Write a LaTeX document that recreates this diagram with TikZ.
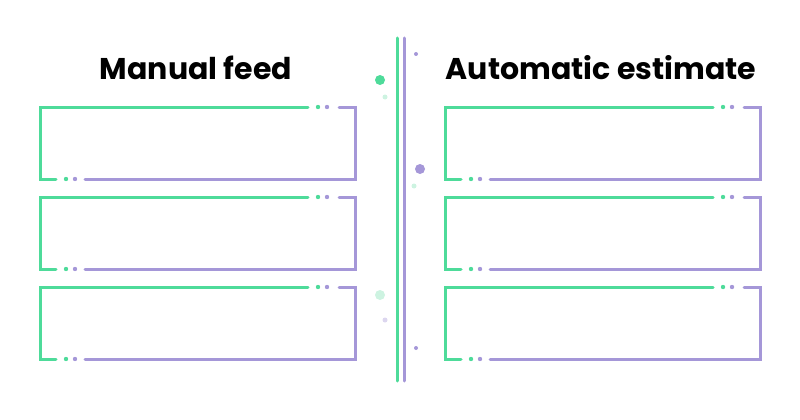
\documentclass[tikz,border=0pt]{standalone}
\usepackage{fontspec}
\setmainfont{Poppins}
\definecolor{mint}{HTML}{4EDB9A}
\definecolor{lilac}{HTML}{A597D8}
\definecolor{palemint}{HTML}{CDF3E1}
\definecolor{palelilac}{HTML}{DCD6EF}
\begin{document}
\begin{tikzpicture}[x=1pt,y=-1pt,
    greenline/.style={draw=mint,line width=3pt,line cap=round},
    purpleline/.style={draw=lilac,line width=3pt,line cap=round},
    title/.style={font=\bfseries\fontsize{30}{34}\selectfont}]
    \useasboundingbox (0,0) rectangle (800,420);

    \node[title] (lefttitle) at (196,68) {Manual feed};
    \node[title] (righttitle) at (601,68) {Automatic estimate};

    % boxes
    \foreach \x in {40,445} {
        \foreach \y in {107,197,287} {
            \draw[greenline] (\x+268,\y) -- (\x,\y) -- (\x,\y+72) -- (\x+16,\y+72);
            \fill[mint] (\x+26,\y+72) circle (2.2) (\x+278,\y) circle (2.2);
            \fill[lilac] (\x+35,\y+72) circle (2.2) (\x+287,\y) circle (2.2);
            \draw[purpleline] (\x+45,\y+72) -- (\x+315,\y+72) -- (\x+315,\y) -- (\x+299,\y);
        }
    }

    % divider
    \draw[greenline] (397,38) -- (397,381);
    \draw[purpleline] (404,38) -- (404,381);
    \fill[mint] (380,80) circle (5);
    \fill[palemint] (385,97) circle (2.5);
    \fill[lilac] (416,54) circle (2);
    \fill[lilac] (420,169) circle (5);
    \fill[palemint] (414,186) circle (2.5);
    \fill[palemint] (380,295) circle (5);
    \fill[palelilac] (385,320) circle (2.5);
    \fill[lilac] (416,348) circle (2);
\end{tikzpicture}
\end{document}
